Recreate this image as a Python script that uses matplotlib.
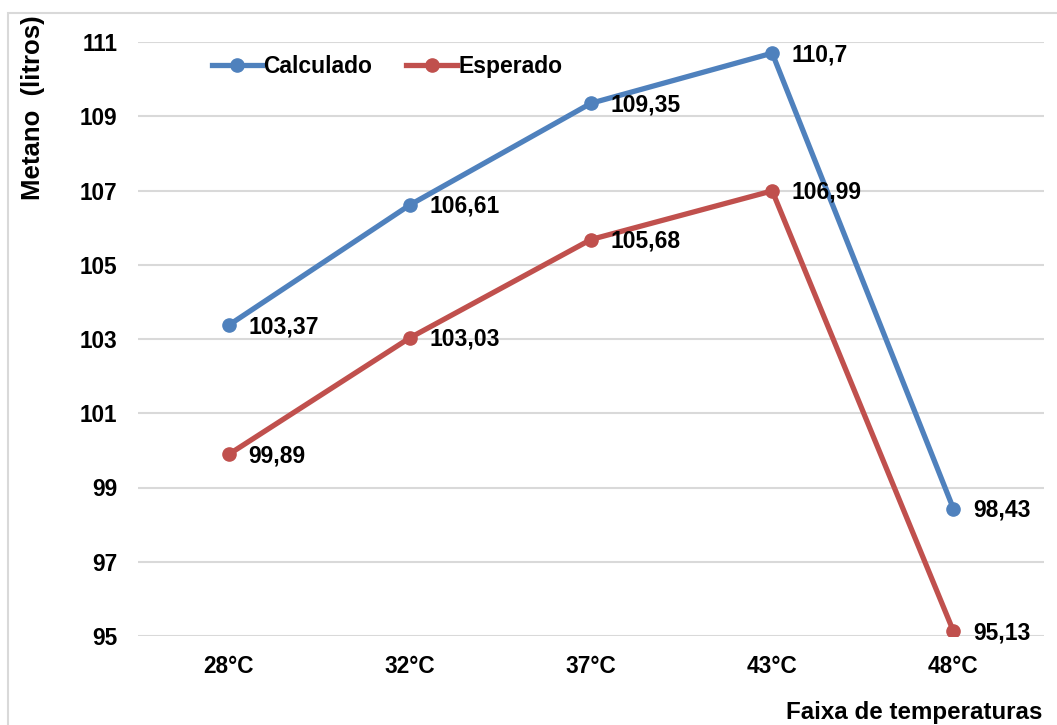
import matplotlib
matplotlib.use("Agg")
from matplotlib import pyplot as plt
from matplotlib.patches import Rectangle

categorias = ["28°C", "32°C", "37°C", "43°C", "48°C"]
calculado = [103.37, 106.61, 109.35, 110.7, 98.43]
esperado = [99.89, 103.03, 105.68, 106.99, 95.13]
yticks = [95, 97, 99, 101, 103, 105, 107, 109, 111]

azul = "#4F81BD"
vermelho = "#C0504D"

plt.rcParams["font.family"] = ["Liberation Sans", "DejaVu Sans"]
plt.rcParams["font.weight"] = "bold"

W, H = 1057, 725
fig = plt.figure(figsize=(W / 100, H / 100), dpi=100)
ax = fig.add_axes([138 / W, 1 - 636 / H, (1044 - 138) / W, (636 - 42) / H])

# moldura cinza do gráfico
fig.patches.append(Rectangle((8 / W, -0.02), 1.1, 1 - 13 / H + 0.02,
                             transform=fig.transFigure, fill=False,
                             edgecolor="#D9D9D9", linewidth=1.5))

x = list(range(len(categorias)))
ax.plot(x, calculado, "-o", color=azul, lw=3.8, ms=9.5, label="Calculado", zorder=3)
ax.plot(x, esperado, "-o", color=vermelho, lw=3.8, ms=9.5, label="Esperado", zorder=3)

for serie in (calculado, esperado):
    for xi, v in zip(x, serie):
        ax.annotate(f"{v:g}".replace(".", ","), (xi, v), xytext=(14, -1),
                    textcoords="offset points", ha="left", va="center",
                    fontsize=16.5, fontweight="bold")

ax.set_xlim(-0.5, 4.5)
ax.set_ylim(95, 111)
ax.set_yticks(yticks)
ax.set_xticks(x)
ax.set_xticklabels(categorias)
ax.tick_params(axis="both", length=0, labelsize=16.3)
ax.tick_params(axis="y", pad=15)
ax.tick_params(axis="x", pad=14)
for t in ax.get_xticklabels() + ax.get_yticklabels():
    t.set_fontweight("bold")

ax.grid(axis="y", color="#D9D9D9", lw=1.5)
ax.set_axisbelow(True)
for s in ax.spines.values():
    s.set_visible(False)

leg = ax.legend(loc="upper left", bbox_to_anchor=(0.0585, 1.013), ncol=2,
                frameon=False, fontsize=16.5, handlelength=2.2,
                handletextpad=0.05, columnspacing=1.5)
for t in leg.get_texts():
    t.set_fontweight("bold")

fig.text(33 / W, 1 - 108 / H, "Metano  (litros)", rotation=90, ha="center",
         va="center", fontsize=18.5, fontweight="bold")
fig.text(1042 / W, 1 - 712 / H, "Faixa de temperaturas", ha="right",
         va="center", fontsize=17.4, fontweight="bold")

fig.savefig("out.png", dpi=100)
